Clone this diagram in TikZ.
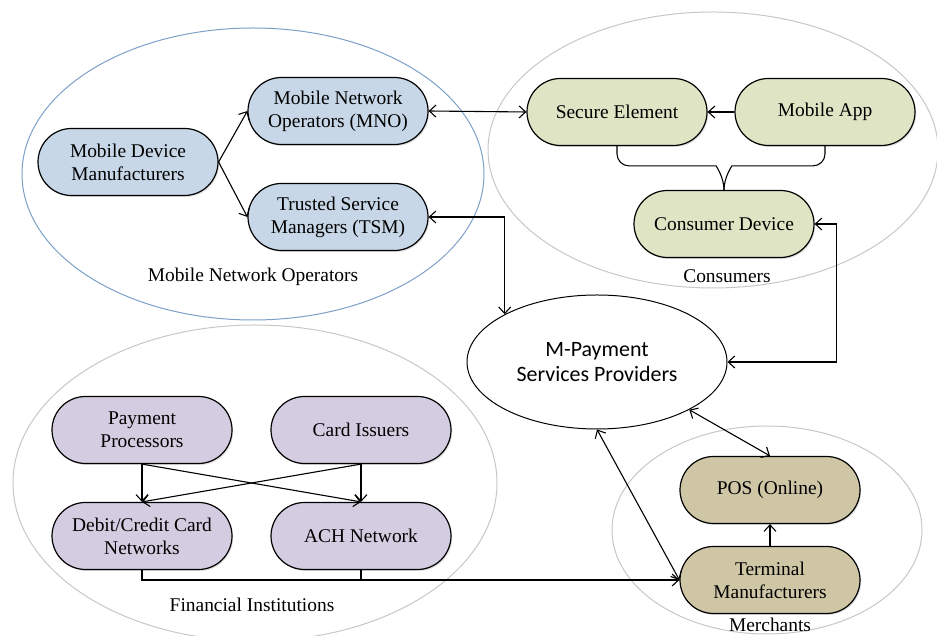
\documentclass[tikz,border=0pt]{standalone}
\usepackage{fontspec}
\setmainfont{Liberation Serif}
\newfontfamily\calibri{Carlito}
\usetikzlibrary{shapes.misc,shapes.geometric,arrows.meta,shadows}

\definecolor{mnoblue}{RGB}{199,215,231}
\definecolor{conGreen}{RGB}{222,228,196}
\definecolor{finPurple}{RGB}{212,205,225}
\definecolor{merTan}{RGB}{207,198,166}
\definecolor{mnoRing}{RGB}{125,160,200}

\tikzset{
	pill/.style={rounded rectangle, draw=black, line width=1.2bp, align=center,
		minimum width=184bp, minimum height=67bp, inner sep=2bp,
		drop shadow={opacity=0.25, shadow xshift=1.2bp, shadow yshift=-1.5bp},
		font=\fontsize{19.5}{23}\selectfont},
	ring/.style={line width=1bp, draw=black!22},
	grouplabel/.style={font=\fontsize{19.5}{23}\selectfont},
	arr/.style={line width=1.1bp, -{Straight Barb[length=6.5bp,width=12bp]}},
	biarr/.style={line width=1.1bp, {Straight Barb[length=6.5bp,width=12bp]}-{Straight Barb[length=6.5bp,width=12bp]}},
	plain/.style={line width=1.1bp}
}

\begin{document}
\begin{tikzpicture}[x=1bp, y=1bp]
		%%%%% START %%%%%
		\useasboundingbox (0,0) rectangle (937,636);
		
		% group rings
		\draw[line width=1bp, draw=mnoRing] (253,462) ellipse (231 and 146);
		\draw[ring] (713,486) ellipse (225 and 138);
		\draw[ring] (255,153) ellipse (242 and 158);
		\draw[ring] (767,106) ellipse (155 and 104);
		
		\node[grouplabel] (lblMno) at (253,359) {Mobile Network Operators};
		\node[grouplabel] (lblCon) at (727,360) {Consumers};
		\node[grouplabel] (lblFin) at (252,31) {Financial Institutions};
		\node[grouplabel] (lblMer) at (770,11) {Merchants};
		
		% mobile network operators
		\node[pill, fill=mnoblue] (mdm) at (128,474) {Mobile Device\\Manufacturers};
		\node[pill, fill=mnoblue] (mno) at (338,525) {Mobile Network\\Operators (MNO)};
		\node[pill, fill=mnoblue] (tsm) at (338,419) {Trusted Service\\Managers (TSM)};
		
		% consumers
		\node[pill, fill=conGreen] (se) at (617,524) {Secure Element};
		\node[pill, fill=conGreen] (app) at (825,524) {Mobile App};
		\node[pill, fill=conGreen] (cdev) at (724,412) {Consumer Device};
		
		% providers
		\node[ellipse, draw=black, line width=1bp, minimum width=260bp, minimum height=134bp,
			align=center, font=\calibri\fontsize{22}{25}\selectfont] (mpsp) at (597,274)
			{M-Payment\\Services Providers};
		
		% financial institutions
		\node[pill, fill=finPurple] (pp) at (142,206) {Payment\\Processors};
		\node[pill, fill=finPurple] (ci) at (361,206) {Card Issuers};
		\node[pill, fill=finPurple] (dcn) at (142,100) {Debit/Credit Card\\Networks};
		\node[pill, fill=finPurple] (ach) at (361,100) {ACH Network};
		
		% merchants
		\node[pill, fill=merTan] (pos) at (770,146) {POS (Online)};
		\node[pill, fill=merTan] (tm) at (770,56) {Terminal\\Manufacturers};
		
		% links
		\draw[arr] (mdm.east) -- (mno.west);
		\draw[arr] (mdm.east) -- (tsm.west);
		\draw[biarr] (mno.east) -- (se.west);
		\draw[arr] (app.west) -- (se.east);
		\draw[biarr] (tsm.east) -| (mpsp.north west);
		\draw[biarr] (cdev.east) -- ++(22,0) |- (mpsp.east);
		
		\draw[plain, rounded corners=12bp] (se.south) |- ([xshift=-20bp,yshift=24bp]cdev.north)
			[sharp corners] to[out=0,in=90] (cdev.north);
		\draw[plain, rounded corners=12bp] (app.south) |- ([xshift=20bp,yshift=24bp]cdev.north)
			[sharp corners] to[out=180,in=90] (cdev.north);
		
		\draw[arr] (pp.south) -- (dcn.north);
		\draw[arr] (pp.south) -- (ach.north);
		\draw[arr] (ci.south) -- (ach.north);
		\draw[arr] (ci.south) -- (dcn.north);
		
		\draw[arr] (dcn.south) |- (tm.west);
		\draw[plain] (ach.south) -- (ach.south |- tm.west);
		
		\draw[biarr] (mpsp.south east) -- (pos.north);
		\draw[biarr] (mpsp.south) -- (tm.west);
		\draw[arr] (tm.north) -- (pos.south);
		
		%%%%% END %%%%%
	\end{tikzpicture}
\end{document}
